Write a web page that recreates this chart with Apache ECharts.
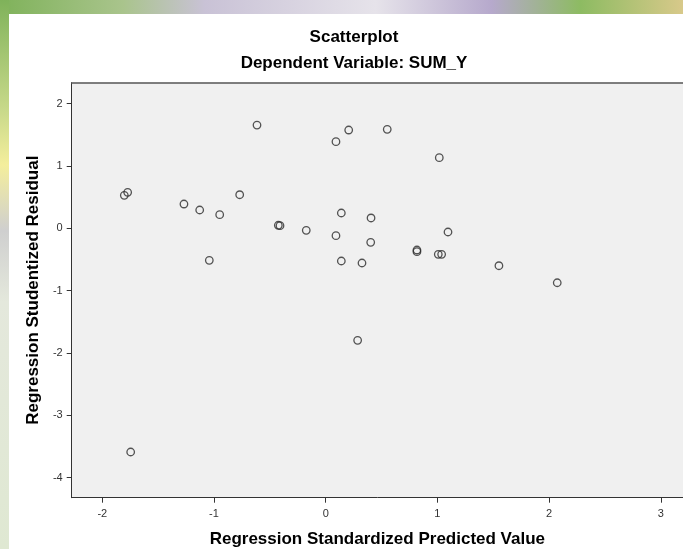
<!DOCTYPE html>
<html>
<head>
<meta charset="utf-8">
<script src="https://cdn.jsdelivr.net/npm/echarts@6/dist/echarts.min.js"></script>
<style>html,body{margin:0;padding:0;background:#fff;}#c{width:683px;height:549px;}</style>
</head>
<body>
<div id="c"></div>
<script>
// Regression Standardized Predicted Value
const predicted = [-0.615, 0.206, 0.092, -1.803, -1.773, -1.269, -1.128, -0.949, -0.770, -0.424,
  -0.409, -0.174, 0.092, 0.140, 0.406, 0.403, -1.042, 0.140, 0.325, 0.551,
  1.017, 1.095, 0.817, 0.817, 1.008, 1.038, 1.551, 2.073, 0.286, -1.746];
// Regression Studentized Residual
const residual = [1.655, 1.575, 1.388, 0.528, 0.576, 0.388, 0.292, 0.217, 0.537, 0.047,
  0.040, -0.034, -0.120, 0.244, 0.164, -0.226, -0.515, -0.526, -0.558, 1.586,
  1.131, -0.061, -0.350, -0.377, -0.419, -0.419, -0.602, -0.875, -1.798, -3.590];
const xTicks = [-2, -1, 0, 1, 2, 3];
const yTicks = [-4, -3, -2, -1, 0, 1, 2];
const titleText = 'Scatterplot';
const subtitleText = 'Dependent Variable: SUM_Y';
const xName = 'Regression Standardized Predicted Value';
const yName = 'Regression Studentized Residual';

const points = predicted.map((x, i) => [x, residual[i]]);
const chart = echarts.init(document.getElementById('c'));
const font = 'Liberation Sans, Arial, sans-serif';
const X_MIN = -2.274, X_MAX = 3.199;
chart.setOption({
  backgroundColor: '#ffffff',
  animation: false,
  graphic: [
    { type: 'rect', z: -10, shape: { x: 0, y: 0, width: 683, height: 14 },
      style: { fill: new echarts.graphic.LinearGradient(0, 0, 1, 0, [
        { offset: 0, color: '#7fb25a' }, { offset: 0.18, color: '#a9c48c' },
        { offset: 0.3, color: '#c9c2d6' }, { offset: 0.55, color: '#e6e3ea' },
        { offset: 0.72, color: '#b6a9cc' }, { offset: 0.85, color: '#8dbb62' },
        { offset: 1, color: '#d8c98a' }]) } },
    { type: 'rect', z: -10, shape: { x: 0, y: 0, width: 9, height: 549 },
      style: { fill: new echarts.graphic.LinearGradient(0, 0, 0, 1, [
        { offset: 0, color: '#7fb25a' }, { offset: 0.2, color: '#c8d98a' },
        { offset: 0.3, color: '#f4ee9c' }, { offset: 0.42, color: '#cfcfcf' },
        { offset: 0.55, color: '#e4e8dc' }, { offset: 1, color: '#dfe8d2' }]) } },
    { type: 'text', z: 10,
      style: { text: titleText, x: 354, y: 37, textAlign: 'center', textVerticalAlign: 'middle',
        font: 'bold 17px ' + font, fill: '#000' } },
    { type: 'text', z: 10,
      style: { text: subtitleText, x: 354, y: 63, textAlign: 'center', textVerticalAlign: 'middle',
        font: 'bold 17px ' + font, fill: '#000' } }
  ],
  grid: { left: 71.7, top: 82.7, right: 0, bottom: 51.3, show: true,
    outerBoundsMode: 'none', containLabel: false,
    backgroundColor: '#f0f0f0', borderWidth: 0 },
  xAxis: [{
    type: 'value', min: X_MIN, max: X_MAX,
    name: xName, nameLocation: 'middle', nameGap: 33,
    nameTextStyle: { fontFamily: font, fontWeight: 'bold', fontSize: 17, color: '#000' },
    axisLine: { show: true, onZero: false, lineStyle: { color: '#333', width: 1 } },
    axisTick: { show: true, length: 5, customValues: xTicks, lineStyle: { color: '#333' } },
    axisLabel: { customValues: xTicks, margin: 11, fontFamily: font, fontSize: 11, color: '#333' },
    splitLine: { show: false }
  }, {
    type: 'value', min: X_MIN, max: X_MAX, position: 'top',
    axisLine: { show: true, onZero: false, lineStyle: { color: '#555', width: 1.5 } },
    axisTick: { show: false }, axisLabel: { show: false }, splitLine: { show: false }
  }],
  yAxis: {
    type: 'value', min: -4.323, max: 2.334,
    name: yName, nameLocation: 'middle', nameGap: 29, nameRotate: 90,
    nameTextStyle: { fontFamily: font, fontWeight: 'bold', fontSize: 17, color: '#000' },
    axisLine: { show: true, onZero: false, lineStyle: { color: '#333', width: 1 } },
    axisTick: { show: true, length: 5, customValues: yTicks, lineStyle: { color: '#333' } },
    axisLabel: { customValues: yTicks, margin: 9, fontFamily: font, fontSize: 11, color: '#333' },
    splitLine: { show: false }
  },
  series: [{
    type: 'scatter', data: points, symbol: 'circle', symbolSize: 7.5, xAxisIndex: 0,
    itemStyle: { color: 'rgba(0,0,0,0)', borderColor: '#2b2b2b', borderWidth: 1.3 }
  }]
});
</script>
</body>
</html>
